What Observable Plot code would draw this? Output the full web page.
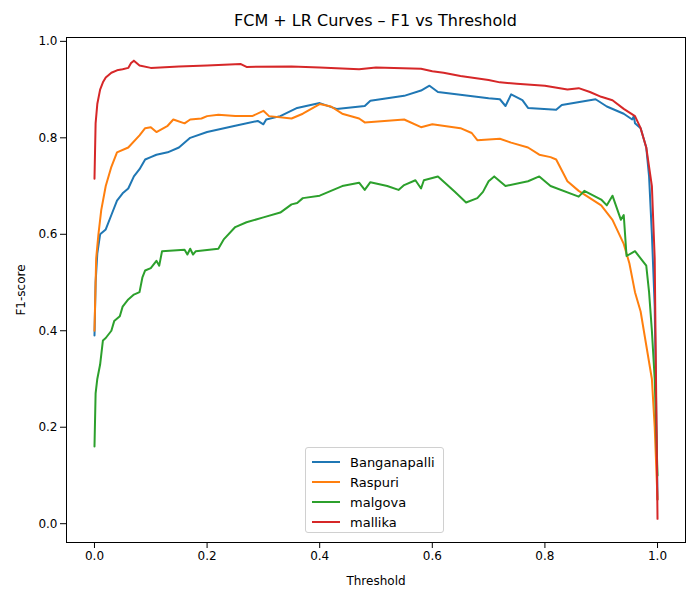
<!DOCTYPE html>
<html><head><meta charset="utf-8">
<script src="https://cdn.jsdelivr.net/npm/d3@7"></script>
<script src="https://cdn.jsdelivr.net/npm/@observablehq/plot@0.6"></script>
<style>
body{margin:0;background:#fff;font-family:"DejaVu Sans",sans-serif}
#wrap{position:relative;width:700px;height:600px}
#title{position:absolute;left:66px;width:619px;top:11px;text-align:center;font-size:16px}
#legend{position:absolute;left:305px;top:447px;width:139px;height:86px;border:1px solid #d0d0d0;border-radius:3px;background:rgba(255,255,255,0.85);font-size:13px;box-sizing:border-box;padding:4px 6px}
#legend div{height:20px;display:flex;align-items:center}
#legend span.sw{display:inline-block;width:28px;height:2px;margin-right:10px}
</style></head>
<body><div id="wrap"><div id="title">FCM + LR Curves – F1 vs Threshold</div><div id="chart"></div><div id="legend"></div></div>
<script>
const series = ["Banganapalli", "Raspuri", "malgova", "mallika"];
const colors = ["#1f77b4", "#ff7f0e", "#2ca02c", "#d62728"];
const xTicks = [0, 0.2, 0.4, 0.6, 0.8, 1.0];
const yTicks = [0, 0.2, 0.4, 0.6, 0.8, 1.0];

const banganapalli = [[0,0.39],[0.002,0.5],[0.005,0.56],[0.01,0.6],[0.02,0.61],[0.03,0.64],[0.04,0.67],[0.05,0.685],[0.06,0.695],[0.07,0.72],[0.08,0.735],[0.09,0.755],[0.1,0.76],[0.11,0.765],[0.13,0.77],[0.15,0.78],[0.17,0.8],[0.2,0.812],[0.25,0.825],[0.29,0.835],[0.3,0.828],[0.305,0.838],[0.33,0.845],[0.36,0.862],[0.4,0.872],[0.43,0.86],[0.48,0.866],[0.49,0.877],[0.55,0.887],[0.58,0.898],[0.595,0.908],[0.61,0.895],[0.7,0.882],[0.72,0.88],[0.73,0.866],[0.74,0.89],[0.76,0.878],[0.77,0.862],[0.82,0.858],[0.83,0.868],[0.89,0.88],[0.91,0.865],[0.94,0.85],[0.955,0.838],[0.958,0.845],[0.96,0.83],[0.97,0.82],[0.98,0.78],[0.985,0.72],[0.99,0.6],[0.995,0.45],[1.0,0.05]];
const raspuri = [[0,0.4],[0.003,0.55],[0.007,0.6],[0.012,0.65],[0.02,0.7],[0.03,0.74],[0.04,0.77],[0.06,0.78],[0.08,0.805],[0.09,0.82],[0.1,0.822],[0.11,0.812],[0.13,0.825],[0.14,0.838],[0.16,0.83],[0.17,0.838],[0.19,0.84],[0.2,0.845],[0.22,0.848],[0.25,0.845],[0.28,0.845],[0.3,0.856],[0.31,0.845],[0.35,0.84],[0.37,0.85],[0.4,0.87],[0.42,0.865],[0.44,0.85],[0.47,0.84],[0.48,0.832],[0.55,0.838],[0.58,0.822],[0.6,0.828],[0.65,0.82],[0.67,0.81],[0.68,0.795],[0.72,0.798],[0.74,0.79],[0.77,0.78],[0.79,0.765],[0.81,0.76],[0.82,0.755],[0.84,0.71],[0.86,0.69],[0.88,0.675],[0.9,0.66],[0.92,0.63],[0.94,0.58],[0.95,0.54],[0.96,0.48],[0.97,0.44],[0.98,0.37],[0.99,0.3],[0.995,0.2],[1.0,0.05]];
const malgova = [[0,0.16],[0.002,0.27],[0.005,0.3],[0.01,0.33],[0.015,0.38],[0.02,0.385],[0.03,0.4],[0.035,0.42],[0.045,0.43],[0.05,0.45],[0.06,0.465],[0.07,0.475],[0.08,0.48],[0.085,0.51],[0.09,0.525],[0.1,0.53],[0.11,0.545],[0.115,0.535],[0.12,0.565],[0.16,0.568],[0.165,0.558],[0.17,0.57],[0.175,0.558],[0.18,0.565],[0.22,0.57],[0.23,0.59],[0.25,0.615],[0.27,0.625],[0.3,0.635],[0.33,0.645],[0.35,0.662],[0.36,0.665],[0.37,0.675],[0.4,0.68],[0.44,0.7],[0.47,0.707],[0.48,0.692],[0.49,0.708],[0.52,0.7],[0.54,0.692],[0.55,0.702],[0.57,0.712],[0.58,0.695],[0.585,0.712],[0.61,0.72],[0.64,0.688],[0.66,0.666],[0.68,0.675],[0.69,0.688],[0.7,0.71],[0.71,0.72],[0.73,0.7],[0.77,0.71],[0.79,0.72],[0.81,0.7],[0.86,0.678],[0.87,0.69],[0.9,0.672],[0.91,0.66],[0.92,0.68],[0.935,0.63],[0.94,0.64],[0.945,0.555],[0.96,0.565],[0.98,0.535],[0.985,0.48],[0.99,0.4],[0.995,0.3],[1.0,0.1]];
const mallika = [[0,0.715],[0.002,0.83],[0.005,0.87],[0.01,0.9],[0.015,0.915],[0.02,0.925],[0.03,0.935],[0.04,0.94],[0.05,0.942],[0.06,0.945],[0.065,0.955],[0.07,0.96],[0.08,0.95],[0.1,0.945],[0.15,0.948],[0.2,0.95],[0.26,0.953],[0.27,0.947],[0.35,0.948],[0.4,0.946],[0.47,0.942],[0.5,0.946],[0.58,0.943],[0.6,0.938],[0.62,0.935],[0.65,0.928],[0.7,0.92],[0.72,0.915],[0.75,0.912],[0.8,0.908],[0.84,0.9],[0.86,0.903],[0.88,0.895],[0.9,0.885],[0.92,0.878],[0.94,0.86],[0.96,0.845],[0.97,0.82],[0.98,0.78],[0.99,0.7],[0.995,0.55],[1.0,0.01]];

const curves = [banganapalli, raspuri, malgova, mallika];
const data = curves.flatMap((c, i) => c.map(([t, f]) => ({t, f, s: series[i]})));

const chart = Plot.plot({
  width: 700,
  height: 600,
  marginTop: 37,
  marginBottom: 58,
  marginLeft: 66,
  marginRight: 15,
  style: {fontFamily: "DejaVu Sans, sans-serif", fontSize: "12px", color: "#000"},
  x: {domain: [-0.0497, 1.0497], ticks: xTicks, tickFormat: d3.format(".1f"), label: "Threshold", labelAnchor: "center", labelArrow: "none", labelOffset: 42},
  y: {domain: [-0.039, 1.008], ticks: yTicks, tickFormat: d3.format(".1f"), label: "F1-score", labelAnchor: "center", labelArrow: "none", labelOffset: 50},
  color: {domain: series, range: colors},
  marks: [
    Plot.frame({stroke: "#000"}),
    Plot.line(data, {x: "t", y: "f", z: "s", stroke: "s", strokeWidth: 2})
  ]
});
d3.select("#chart").append(() => chart);

const lg = d3.select("#legend");
series.forEach((s, i) => {
  const row = lg.append("div");
  row.append("span").attr("class", "sw").style("background", colors[i]);
  row.append("span").text(s);
});
</script></body></html>
